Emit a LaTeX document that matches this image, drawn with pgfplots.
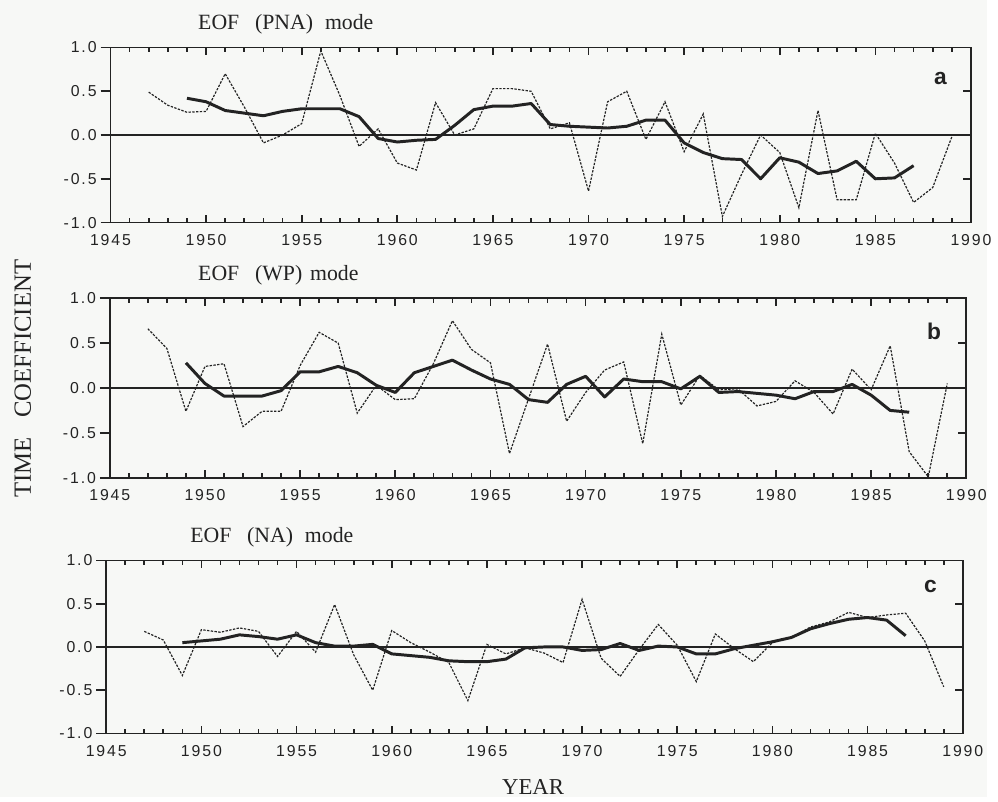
\documentclass[border=0pt]{standalone}
\usepackage{fontspec}
\setmainfont{Liberation Serif}
\newfontfamily\tickfont[LetterSpace=12]{Liberation Sans}
\newfontfamily\tagfont{Liberation Sans}
\usepackage{pgfplots}
\usepackage{pgfplotstable}
\pgfplotsset{compat=1.18}

\definecolor{paper}{RGB}{247,248,246}
\definecolor{ink}{RGB}{35,35,35}

% annual values (thin dotted) and 5-yr running means (thick)
\pgfplotstableread{
yr v
1947 0.49
1948 0.34
1949 0.26
1950 0.27
1951 0.70
1952 0.32
1953 -0.09
1954 0.00
1955 0.13
1956 0.96
1957 0.45
1958 -0.13
1959 0.07
1960 -0.32
1961 -0.40
1962 0.37
1963 0.00
1964 0.07
1965 0.53
1966 0.53
1967 0.50
1968 0.07
1969 0.14
1970 -0.64
1971 0.38
1972 0.50
1973 -0.05
1974 0.38
1975 -0.19
1976 0.24
1977 -0.93
1978 -0.45
1979 0.00
1980 -0.20
1981 -0.83
1982 0.28
1983 -0.74
1984 -0.74
1985 0.02
1986 -0.32
1987 -0.77
1988 -0.60
1989 -0.02
}\annA
\pgfplotstableread{
yr v
1949 0.42
1950 0.38
1951 0.28
1952 0.25
1953 0.22
1954 0.27
1955 0.30
1956 0.30
1957 0.30
1958 0.21
1959 -0.04
1960 -0.08
1961 -0.06
1962 -0.05
1963 0.11
1964 0.29
1965 0.33
1966 0.33
1967 0.36
1968 0.12
1969 0.10
1970 0.09
1971 0.08
1972 0.10
1973 0.17
1974 0.17
1975 -0.09
1976 -0.20
1977 -0.27
1978 -0.28
1979 -0.50
1980 -0.26
1981 -0.31
1982 -0.44
1983 -0.41
1984 -0.30
1985 -0.50
1986 -0.49
1987 -0.35
}\runA

\pgfplotstableread{
yr v
1947 0.66
1948 0.44
1949 -0.26
1950 0.24
1951 0.27
1952 -0.43
1953 -0.26
1954 -0.26
1955 0.25
1956 0.62
1957 0.50
1958 -0.28
1959 0.03
1960 -0.13
1961 -0.12
1962 0.27
1963 0.75
1964 0.43
1965 0.28
1966 -0.73
1967 -0.12
1968 0.49
1969 -0.37
1970 -0.05
1971 0.20
1972 0.29
1973 -0.62
1974 0.60
1975 -0.19
1976 0.14
1977 -0.02
1978 -0.01
1979 -0.20
1980 -0.15
1981 0.08
1982 -0.05
1983 -0.29
1984 0.21
1985 -0.02
1986 0.47
1987 -0.71
1988 -0.99
1989 0.05
}\annB
\pgfplotstableread{
yr v
1949 0.28
1950 0.05
1951 -0.09
1952 -0.09
1953 -0.09
1954 -0.03
1955 0.18
1956 0.18
1957 0.24
1958 0.17
1959 0.03
1960 -0.05
1961 0.17
1962 0.24
1963 0.31
1964 0.20
1965 0.10
1966 0.04
1967 -0.13
1968 -0.16
1969 0.04
1970 0.13
1971 -0.10
1972 0.10
1973 0.07
1974 0.07
1975 -0.01
1976 0.13
1977 -0.05
1978 -0.04
1979 -0.06
1980 -0.08
1981 -0.12
1982 -0.04
1983 -0.04
1984 0.04
1985 -0.08
1986 -0.25
1987 -0.27
}\runB

\pgfplotstableread{
yr v
1947 0.18
1948 0.08
1949 -0.33
1950 0.20
1951 0.17
1952 0.22
1953 0.18
1954 -0.11
1955 0.18
1956 -0.06
1957 0.49
1958 -0.09
1959 -0.50
1960 0.19
1961 0.05
1962 -0.06
1963 -0.18
1964 -0.62
1965 0.03
1966 -0.08
1967 -0.01
1968 -0.07
1969 -0.18
1970 0.55
1971 -0.13
1972 -0.34
1973 -0.03
1974 0.26
1975 0.02
1976 -0.40
1977 0.15
1978 -0.02
1979 -0.17
1980 0.05
1981 0.11
1982 0.23
1983 0.29
1984 0.40
1985 0.34
1986 0.37
1987 0.39
1988 0.07
1989 -0.46
}\annC
\pgfplotstableread{
yr v
1949 0.05
1950 0.07
1951 0.09
1952 0.14
1953 0.12
1954 0.09
1955 0.14
1956 0.05
1957 0.01
1958 0.01
1959 0.03
1960 -0.08
1961 -0.10
1962 -0.12
1963 -0.16
1964 -0.17
1965 -0.17
1966 -0.14
1967 -0.01
1968 0.00
1969 0.00
1970 -0.04
1971 -0.03
1972 0.04
1973 -0.04
1974 0.01
1975 0.00
1976 -0.08
1977 -0.08
1978 -0.02
1979 0.02
1980 0.06
1981 0.11
1982 0.21
1983 0.27
1984 0.32
1985 0.34
1986 0.31
1987 0.13
}\runC

\pgfplotsset{
  eofbase/.style={
    scale only axis,
    xmin=1945, xmax=1990, ymin=-1, ymax=1,
    clip=false,
    axis line style={line width=0.9pt, ink},
  },
  eofmain/.style={eofbase,
    xtick={1945,1950,...,1990},
    xticklabels={1945,1950,1955,1960,1965,1970,1975,1980,1985,1990},
    minor x tick num=4,
    xtick pos=both,
    ytick={-0.5,0,0.5},
    yticklabels={},
    ytick pos=right,
    tick align=inside,
    major tick length=4pt,
    minor tick length=2.4pt,
    tick style={line width=0.85pt, ink},
    xticklabel style={font=\tickfont\fontsize{8}{9}\selectfont, text=ink, yshift=-2.5pt},
  },
  eofleft/.style={eofbase,
    axis x line=none,
    axis y line*=left,
    ytick={-1,-0.5,0,0.5,1},
    yticklabels={-1.0,-0.5,0.0,0.5,1.0},
    tick align=outside,
    major tick length=5pt,
    tick style={line width=0.85pt, ink},
    yticklabel style={font=\tickfont\fontsize{8}{9}\selectfont, text=ink, xshift=1.5pt},
  },
  annual/.style={ink, line width=0.6pt, dash pattern=on 1.2pt off 0.7pt, mark=none},
  runmean/.style={ink, line width=1.5pt, line join=round, mark=none},
  zeroline/.style={ink, line width=0.6pt, mark=none},
}

\begin{document}
\begin{tikzpicture}
\fill[paper] (0,0) rectangle (499pt,-403pt);

% ---- panel a
\begin{axis}[eofmain, at={(55.85pt,-24pt)}, anchor=north west, width=435pt, height=88.5pt]
\addplot[zeroline] coordinates {(1945,0) (1990,0)};
\addplot[annual] table[x=yr,y=v] {\annA};
\addplot[runmean] table[x=yr,y=v] {\runA};
\node[font=\tagfont\bfseries\fontsize{11.5}{12}\selectfont, text=ink] at (axis cs:1988.4,0.65) {a};
\end{axis}
\begin{axis}[eofleft, at={(55.85pt,-24pt)}, anchor=north west, width=435pt, height=88.5pt]
\end{axis}

% ---- panel b
\begin{axis}[eofmain, at={(55.5pt,-150.75pt)}, anchor=north west, width=433pt, height=90.75pt]
\addplot[zeroline] coordinates {(1945,0) (1990,0)};
\addplot[annual] table[x=yr,y=v] {\annB};
\addplot[runmean] table[x=yr,y=v] {\runB};
\node[font=\tagfont\bfseries\fontsize{11.5}{12}\selectfont, text=ink] at (axis cs:1988.3,0.63) {b};
\end{axis}
\begin{axis}[eofleft, at={(55.5pt,-150.75pt)}, anchor=north west, width=433pt, height=90.75pt]
\end{axis}

% ---- panel c
\begin{axis}[eofmain, at={(53.7pt,-283.3pt)}, anchor=north west, width=433pt, height=87.5pt]
\addplot[zeroline] coordinates {(1945,0) (1990,0)};
\addplot[annual] table[x=yr,y=v] {\annC};
\addplot[runmean] table[x=yr,y=v] {\runC};
\node[font=\tagfont\bfseries\fontsize{11.5}{12}\selectfont, text=ink] at (axis cs:1988.3,0.70) {c};
\end{axis}
\begin{axis}[eofleft, at={(53.7pt,-283.3pt)}, anchor=north west, width=433pt, height=87.5pt]
\end{axis}

% titles and axis names
\node[anchor=west, font=\fontsize{11}{13}\selectfont, text=ink, inner sep=0pt] at (100pt,-12.5pt) {EOF\hspace{8pt}(PNA)\hspace{6pt}mode};
\node[anchor=west, font=\fontsize{11}{13}\selectfont, text=ink, inner sep=0pt] at (100pt,-139pt) {EOF\hspace{8pt}(WP)\hspace{4pt}mode};
\node[anchor=west, font=\fontsize{11}{13}\selectfont, text=ink, inner sep=0pt] at (96pt,-271.5pt) {EOF\hspace{8pt}(NA)\hspace{6pt}mode};
\node[rotate=90, font=\fontsize{12.5}{14}\selectfont, text=ink] at (11.5pt,-191.5pt) {TIME\hspace{10pt}COEFFICIENT};
\node[font=\fontsize{11.5}{13}\selectfont, text=ink] at (269.5pt,-398pt) {YEAR};
\end{tikzpicture}
\end{document}
